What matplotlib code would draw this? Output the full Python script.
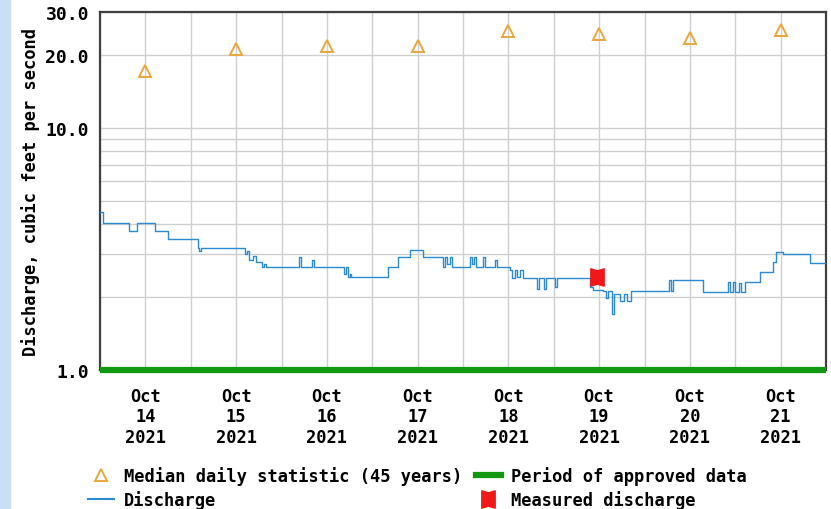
import pandas as pd
import numpy as np
import matplotlib
matplotlib.use('Agg')
import matplotlib.pyplot as plt
import matplotlib.dates as mdates
from matplotlib.lines import Line2D
from matplotlib.path import Path
from matplotlib.patches import Rectangle

# discharge record (step data), cfs
dis_time = [
    "2021-10-14 00:00", "2021-10-14 00:45", "2021-10-14 07:45", "2021-10-14 09:45",
    "2021-10-14 14:30", "2021-10-14 18:00", "2021-10-15 01:50", "2021-10-15 02:15",
    "2021-10-15 02:45", "2021-10-15 14:15", "2021-10-15 15:00", "2021-10-15 15:30",
    "2021-10-15 16:30", "2021-10-15 17:15", "2021-10-15 18:45", "2021-10-15 19:30",
    "2021-10-15 20:00", "2021-10-16 04:45", "2021-10-16 05:15", "2021-10-16 08:00",
    "2021-10-16 08:30", "2021-10-16 16:30", "2021-10-16 17:00", "2021-10-16 17:30",
    "2021-10-16 18:00", "2021-10-16 18:30", "2021-10-17 04:15", "2021-10-17 06:45",
    "2021-10-17 10:00", "2021-10-17 13:30", "2021-10-17 18:45", "2021-10-17 19:15",
    "2021-10-17 19:45", "2021-10-17 20:30", "2021-10-17 21:00", "2021-10-18 01:45",
    "2021-10-18 02:15", "2021-10-18 03:00", "2021-10-18 03:30", "2021-10-18 05:15",
    "2021-10-18 05:45", "2021-10-18 08:30", "2021-10-18 09:00", "2021-10-18 12:30",
    "2021-10-18 13:00", "2021-10-18 13:45", "2021-10-18 14:15", "2021-10-18 15:00",
    "2021-10-18 15:45", "2021-10-18 19:30", "2021-10-18 20:00", "2021-10-18 21:30",
    "2021-10-18 22:00", "2021-10-19 00:15", "2021-10-19 00:45", "2021-10-19 09:30",
    "2021-10-19 10:30", "2021-10-19 13:00", "2021-10-19 13:45", "2021-10-19 14:15",
    "2021-10-19 15:30", "2021-10-19 16:00", "2021-10-19 17:30", "2021-10-19 18:30",
    "2021-10-19 19:30", "2021-10-19 20:30", "2021-10-20 06:30", "2021-10-20 07:00",
    "2021-10-20 07:30", "2021-10-20 15:30", "2021-10-20 22:00", "2021-10-20 22:30",
    "2021-10-20 23:30", "2021-10-21 00:00", "2021-10-21 01:00", "2021-10-21 01:30",
    "2021-10-21 02:30", "2021-10-21 06:30", "2021-10-21 10:00", "2021-10-21 10:45",
    "2021-10-21 12:30", "2021-10-21 19:45", "2021-10-22 00:00",
]
dis_value = [
    4.49, 4.04, 3.74, 4.04,
    3.75, 3.47, 3.19, 3.10,
    3.19, 3.00, 3.10, 2.85,
    2.95, 2.80, 2.66, 2.75,
    2.66, 2.92, 2.66, 2.85,
    2.66, 2.50, 2.66, 2.42,
    2.50, 2.42, 2.66, 2.92,
    3.12, 2.92, 2.66, 2.92,
    2.75, 2.92, 2.66, 2.92,
    2.75, 2.92, 2.66, 2.92,
    2.66, 2.85, 2.66, 2.58,
    2.40, 2.58, 2.42, 2.58,
    2.40, 2.16, 2.40, 2.16,
    2.40, 2.20, 2.40, 2.20,
    2.14, 2.12, 1.98, 2.12,
    1.70, 2.05, 1.93, 2.05,
    1.93, 2.12, 2.35, 2.12,
    2.35, 2.10, 2.30, 2.10,
    2.30, 2.10, 2.28, 2.10,
    2.31, 2.54, 2.79, 3.08,
    3.01, 2.76, 2.76,
]

# median daily statistic (45 years)
median_days = ["2021-10-14 12:00", "2021-10-15 12:00", "2021-10-16 12:00", "2021-10-17 12:00",
               "2021-10-18 12:00", "2021-10-19 12:00", "2021-10-20 12:00", "2021-10-21 12:00"]
median_value = [17.1, 21.1, 21.7, 21.7, 25.0, 24.3, 23.4, 25.3]

# field measurement
measured_time = ["2021-10-19 11:30"]
measured_value = [2.41]

# approved data period
approved_time = ["2021-10-14 00:00", "2021-10-22 00:00"]
approved_value = [1.0, 1.0]

plt.rcParams['font.family'] = ['DejaVu Sans Mono']
plt.rcParams['font.weight'] = 'bold'
plt.rcParams['axes.labelweight'] = 'bold'
plt.rcParams['font.size'] = 12.25

blue = '#2a8ad4'
orange = '#eba53a'
green = '#119a11'
red = '#f01818'

# notched box marker for measured discharge
bowtie = Path([(-1, -1.3), (0, -1.0), (1, -1.3), (1, 1.3), (0, 1.0), (-1, 1.3), (-1, -1.3)],
              [1, 2, 2, 2, 2, 2, 79])

fig = plt.figure(figsize=(8.31, 5.10), dpi=100)
fig.patches.append(Rectangle((0, 0), 10 / 831, 1, transform=fig.transFigure,
                             color='#c9dff2', zorder=0))
ax = fig.add_axes([100 / 831, 1 - 371 / 510, 726 / 831, 358 / 510])

t_dis = pd.to_datetime(dis_time)
ax.plot(t_dis, dis_value, drawstyle='steps-post', color=blue, lw=1.0, zorder=3)
ax.plot(pd.to_datetime(median_days), median_value, linestyle='none', marker='^',
        markersize=8.5, markerfacecolor='none', markeredgecolor=orange,
        markeredgewidth=1.4, zorder=4)
ax.plot(pd.to_datetime(approved_time), approved_value, color=green, lw=4.5,
        solid_capstyle='butt', clip_on=False, zorder=5)
ax.plot(pd.to_datetime(measured_time), measured_value, linestyle='none', marker=bowtie,
        markersize=12.5, color=red, zorder=6)

ax.set_yscale('log')
ax.set_ylim(1.0, 30.0)
ax.set_xlim(pd.Timestamp("2021-10-14 00:00"), pd.Timestamp("2021-10-22 00:00"))

ax.yaxis.set_major_locator(matplotlib.ticker.FixedLocator([1, 10, 20, 30]))
ax.yaxis.set_major_formatter(matplotlib.ticker.FormatStrFormatter('%.1f'))
ax.yaxis.set_minor_locator(matplotlib.ticker.FixedLocator([2, 3, 4, 5, 6, 7, 8, 9]))
ax.yaxis.set_minor_formatter(matplotlib.ticker.NullFormatter())

ax.xaxis.set_major_locator(mdates.DayLocator())
ax.xaxis.set_major_formatter(matplotlib.ticker.NullFormatter())
ax.xaxis.set_minor_locator(mdates.HourLocator(byhour=[12]))
ax.xaxis.set_minor_formatter(mdates.DateFormatter('%b\n%d\n%Y'))

ax.tick_params(which='both', length=0)
ax.tick_params(axis='y', which='major', pad=8, labelsize=13)
ax.tick_params(axis='x', which='minor', pad=12)
for lab in ax.get_xticklabels(minor=True):
    lab.set_horizontalalignment('center')

ax.grid(True, which='both', color='#cfcfcf', lw=1.0)
for s in ax.spines.values():
    s.set_color('#404040')
    s.set_linewidth(1.6)

ax.set_ylabel('Discharge, cubic feet per second', fontweight='bold')
ax.yaxis.set_label_coords(-60 / 726, 0.5)

handles = [
    Line2D([], [], linestyle='none', marker='^', markersize=8.5, markerfacecolor='none',
           markeredgecolor=orange, markeredgewidth=1.4),
    Line2D([], [], color=blue, lw=1.5),
    Line2D([], [], color=green, lw=4.5),
    Line2D([], [], linestyle='none', marker=bowtie, markersize=12.5, color=red),
]
labels = ['Median daily statistic (45 years)', 'Discharge',
          'Period of approved data', 'Measured discharge']
fig.legend(handles, labels, ncol=2, loc='upper left', bbox_to_anchor=(88 / 831, 1 - 467 / 510),
           frameon=False, handlelength=1.5, handletextpad=0.6, columnspacing=0.8,
           labelspacing=0.3, borderaxespad=0, borderpad=0)

plt.savefig('out.png', dpi=100)
plt.close()
